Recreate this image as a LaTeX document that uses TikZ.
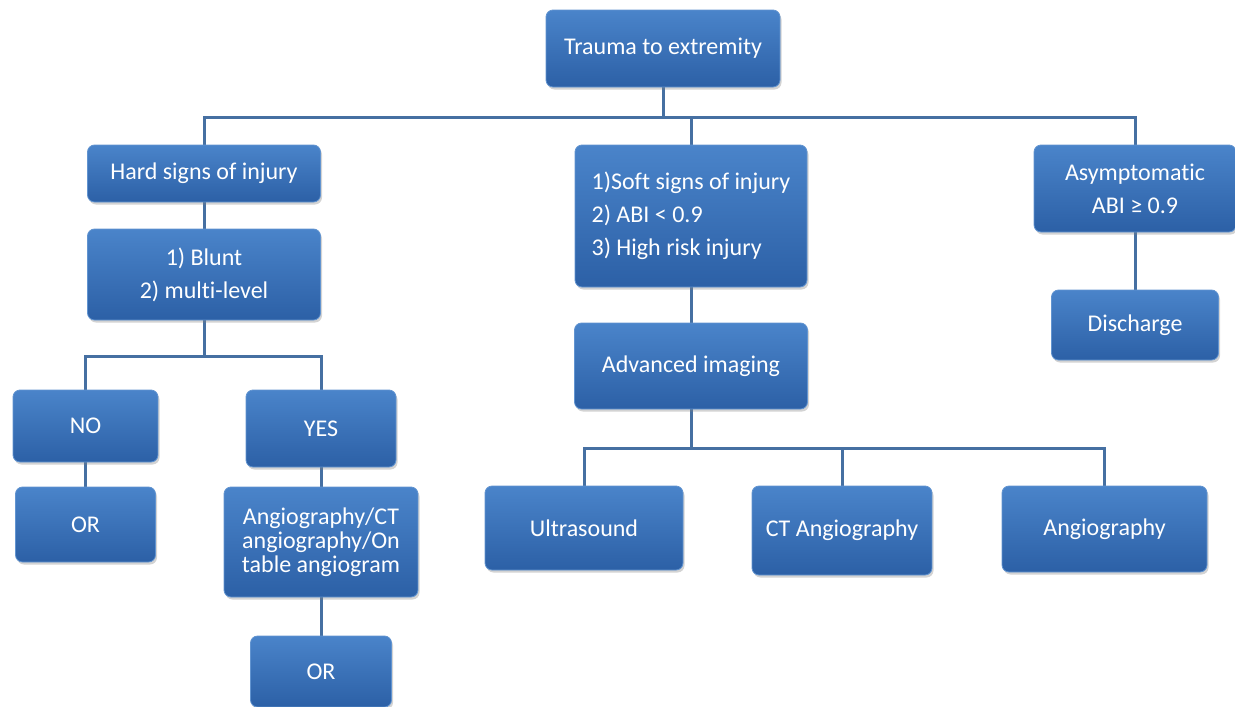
\documentclass[tikz,border=0pt]{standalone}
\usepackage{fontspec}
\setmainfont{Carlito}[Ligatures=NoCommon]
\usetikzlibrary{shadows,backgrounds}
\definecolor{boxtop}{RGB}{74,132,202}
\definecolor{boxbot}{RGB}{44,96,166}
\definecolor{boxedge}{RGB}{98,148,208}
\definecolor{linkc}{RGB}{70,112,162}
\tikzset{
  flowbox/.style={rectangle, rounded corners=7pt, top color=boxtop, bottom color=boxbot,
    draw=boxedge, line width=0.8pt, text=white, font=\fontsize{24}{33}\selectfont,
    align=center, inner sep=0pt,
    drop shadow={opacity=0.35, shadow xshift=1.5pt, shadow yshift=-2.5pt}},
  link/.style={draw=linkc, line width=3pt},
}
\begin{document}
\begin{tikzpicture}[x=1pt, y=-1pt]
\useasboundingbox (0,0) rectangle (1235,707);

\node[flowbox, minimum width=234pt, minimum height=77pt] (trauma) at (663,48.5) {Trauma to extremity};
\node[flowbox, minimum width=233pt, minimum height=57pt] (hard) at (204,173.5) {Hard signs of injury};
\node[flowbox, minimum width=232pt, minimum height=142pt, align=left] (soft) at (691,216) {1)Soft signs of injury\\2) ABI {\textless} 0.9\\3) High risk injury};
\node[flowbox, minimum width=202pt, minimum height=87pt] (asym) at (1135,188.5) {Asymptomatic\\ABI ≥ 0.9};
\node[flowbox, minimum width=233pt, minimum height=91pt] (blunt) at (204,274.5) {1) Blunt\\2) multi-level};
\node[flowbox, minimum width=167pt, minimum height=70pt] (discharge) at (1135,325) {Discharge};
\node[flowbox, minimum width=233pt, minimum height=86pt] (adv) at (691,366) {Advanced imaging};
\node[flowbox, minimum width=145pt, minimum height=72pt] (no) at (85.5,426) {NO};
\node[flowbox, minimum width=150pt, minimum height=77pt] (yes) at (321,428.5) {YES};
\node[flowbox, minimum width=140pt, minimum height=75pt] (or1) at (85.5,524.5) {OR};
\node[flowbox, minimum width=194pt, minimum height=110pt, font=\fontsize{24}{24}\selectfont] (angio) at (321,542) {Angiography/CT\\angiography/On\\table angiogram};
\node[flowbox, minimum width=141pt, minimum height=71pt] (or2) at (321,671.5) {OR};
\node[flowbox, minimum width=198pt, minimum height=84pt] (ultra) at (584,528) {Ultrasound};
\node[flowbox, minimum width=180pt, minimum height=89pt] (cta) at (842,530.5) {CT Angiography};
\node[flowbox, minimum width=205pt, minimum height=86pt] (angiog) at (1104.5,529) {Angiography};

\coordinate (bus1) at (0,117);
\coordinate (bus2) at (0,356);
\coordinate (bus3) at (0,448);

\begin{scope}[on background layer]
\draw[link] (trauma.south) -- (trauma.south |- bus1);
\draw[link] (hard.north) -- (hard.north |- bus1) -- (asym.north |- bus1) -- (asym.north);
\draw[link] (soft.north) -- (soft.north |- bus1);
\draw[link] (hard.south) -- (blunt.north);
\draw[link] (blunt.south) -- (blunt.south |- bus2);
\draw[link] (no.north) -- (no.north |- bus2) -- (yes.north |- bus2) -- (yes.north);
\draw[link] (no.south) -- (or1.north);
\draw[link] (yes.south) -- (angio.north);
\draw[link] (angio.south) -- (or2.north);
\draw[link] (asym.south) -- (discharge.north);
\draw[link] (soft.south) -- (adv.north);
\draw[link] (adv.south) -- (adv.south |- bus3);
\draw[link] (ultra.north) -- (ultra.north |- bus3) -- (angiog.north |- bus3) -- (angiog.north);
\draw[link] (cta.north) -- (cta.north |- bus3);
\end{scope}
\end{tikzpicture}
\end{document}
